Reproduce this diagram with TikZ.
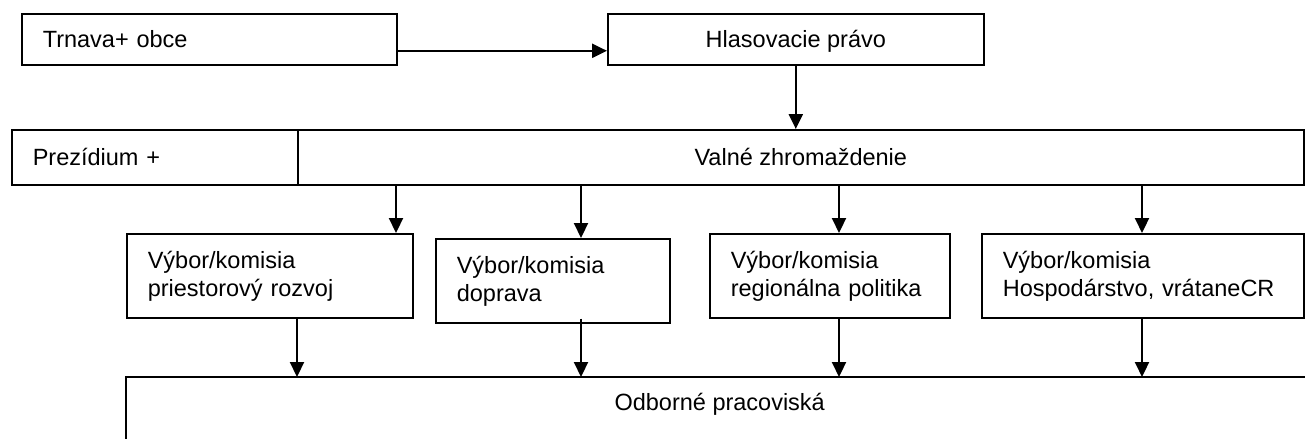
\documentclass[tikz,border=0pt]{standalone}
\usepackage{fontspec}
\setmainfont{Liberation Sans}
\usetikzlibrary{arrows.meta}

\tikzset{
  box/.style={draw, line width=1.6pt, inner xsep=21pt, inner ysep=0pt, anchor=north west},
  onerow/.style={text height=17pt, text depth=0pt},
  arr/.style={line width=2.2pt, -{Triangle[length=15pt,width=14pt]}},
}

\begin{document}
\begin{tikzpicture}[x=1pt, y=-1pt, font=\fontsize{23.5}{28}\selectfont]
        \useasboundingbox (0,0) rectangle (1305,439);
        \node[box, onerow, text width=333pt, minimum height=51pt, align=left] (trnava) at (21,13)  {Trnava+ obce};      %
        \node[box, onerow, minimum width=376pt, minimum height=51pt]            (hlas)   at (607,13) {Hlasovacie pr\'avo}; %
        \draw[arr] ([yshift=-11.5pt]trnava.east) -- ([yshift=-11.5pt]hlas.west);                                    %
        \node[box, onerow, text width=244pt, minimum height=55pt, align=left] (prez)   at (11,129)  {Prez\'idium +};     %
        \node[box, onerow, minimum width=1006pt, minimum height=55pt]           (valne)  at (297,129) {Valné zhromaždenie};%
        \draw[arr] (hlas.south) -- (hlas.south |- valne.north);                                                     %

        % committees
        \node[box, text width=244pt, minimum height=84pt, align=left] (v1) at (126,233) {Výbor/komisia\\priestorový rozvoj};      %
        \node[box, text width=192pt, minimum height=84pt, align=left] (v2) at (435,238) {Výbor/komisia\\doprava};                 %
        \node[box, text width=198pt, minimum height=84pt, align=left] (v3) at (709,233) {Výbor/komisia\\regionálna politika};     %
        \node[box, text width=280pt, minimum height=84pt, align=left] (v4) at (981,233) {Výbor/komisia\\Hospodárstvo, vrátaneCR}; %
        \coordinate (k1) at (396,0); %
        \coordinate (k2) at (581,0); %
        \coordinate (k3) at (839,0); %
        \coordinate (k4) at (1142,0);%
        \draw[arr] (k1 |- valne.south) -- (k1 |- v1.north); %
        \draw[arr] (k2 |- valne.south) -- (k2 |- v2.north); %
        \draw[arr] (k3 |- valne.south) -- (k3 |- v3.north); %
        \draw[arr] (k4 |- valne.south) -- (k4 |- v4.north); %

        % bottom box, open to the right and below
        \node[onerow, inner sep=0pt, anchor=north west, minimum width=1187pt, minimum height=50pt] (odb) at (126,377) {Odborné pracoviská};
        \draw[line width=1.6pt] (odb.north east) -- (odb.north west) -- (odb.north west |- 0,439); %
        \draw[arr] (valne.west |- v1.south) -- (valne.west |- odb.north); %
        \draw[arr] (k2 |- v1.south) -- (k2 |- odb.north);                 %
        \draw[arr] (k3 |- v1.south) -- (k3 |- odb.north);                 %
        \draw[arr] (k4 |- v1.south) -- (k4 |- odb.north);                 %
\end{tikzpicture}
\end{document}
